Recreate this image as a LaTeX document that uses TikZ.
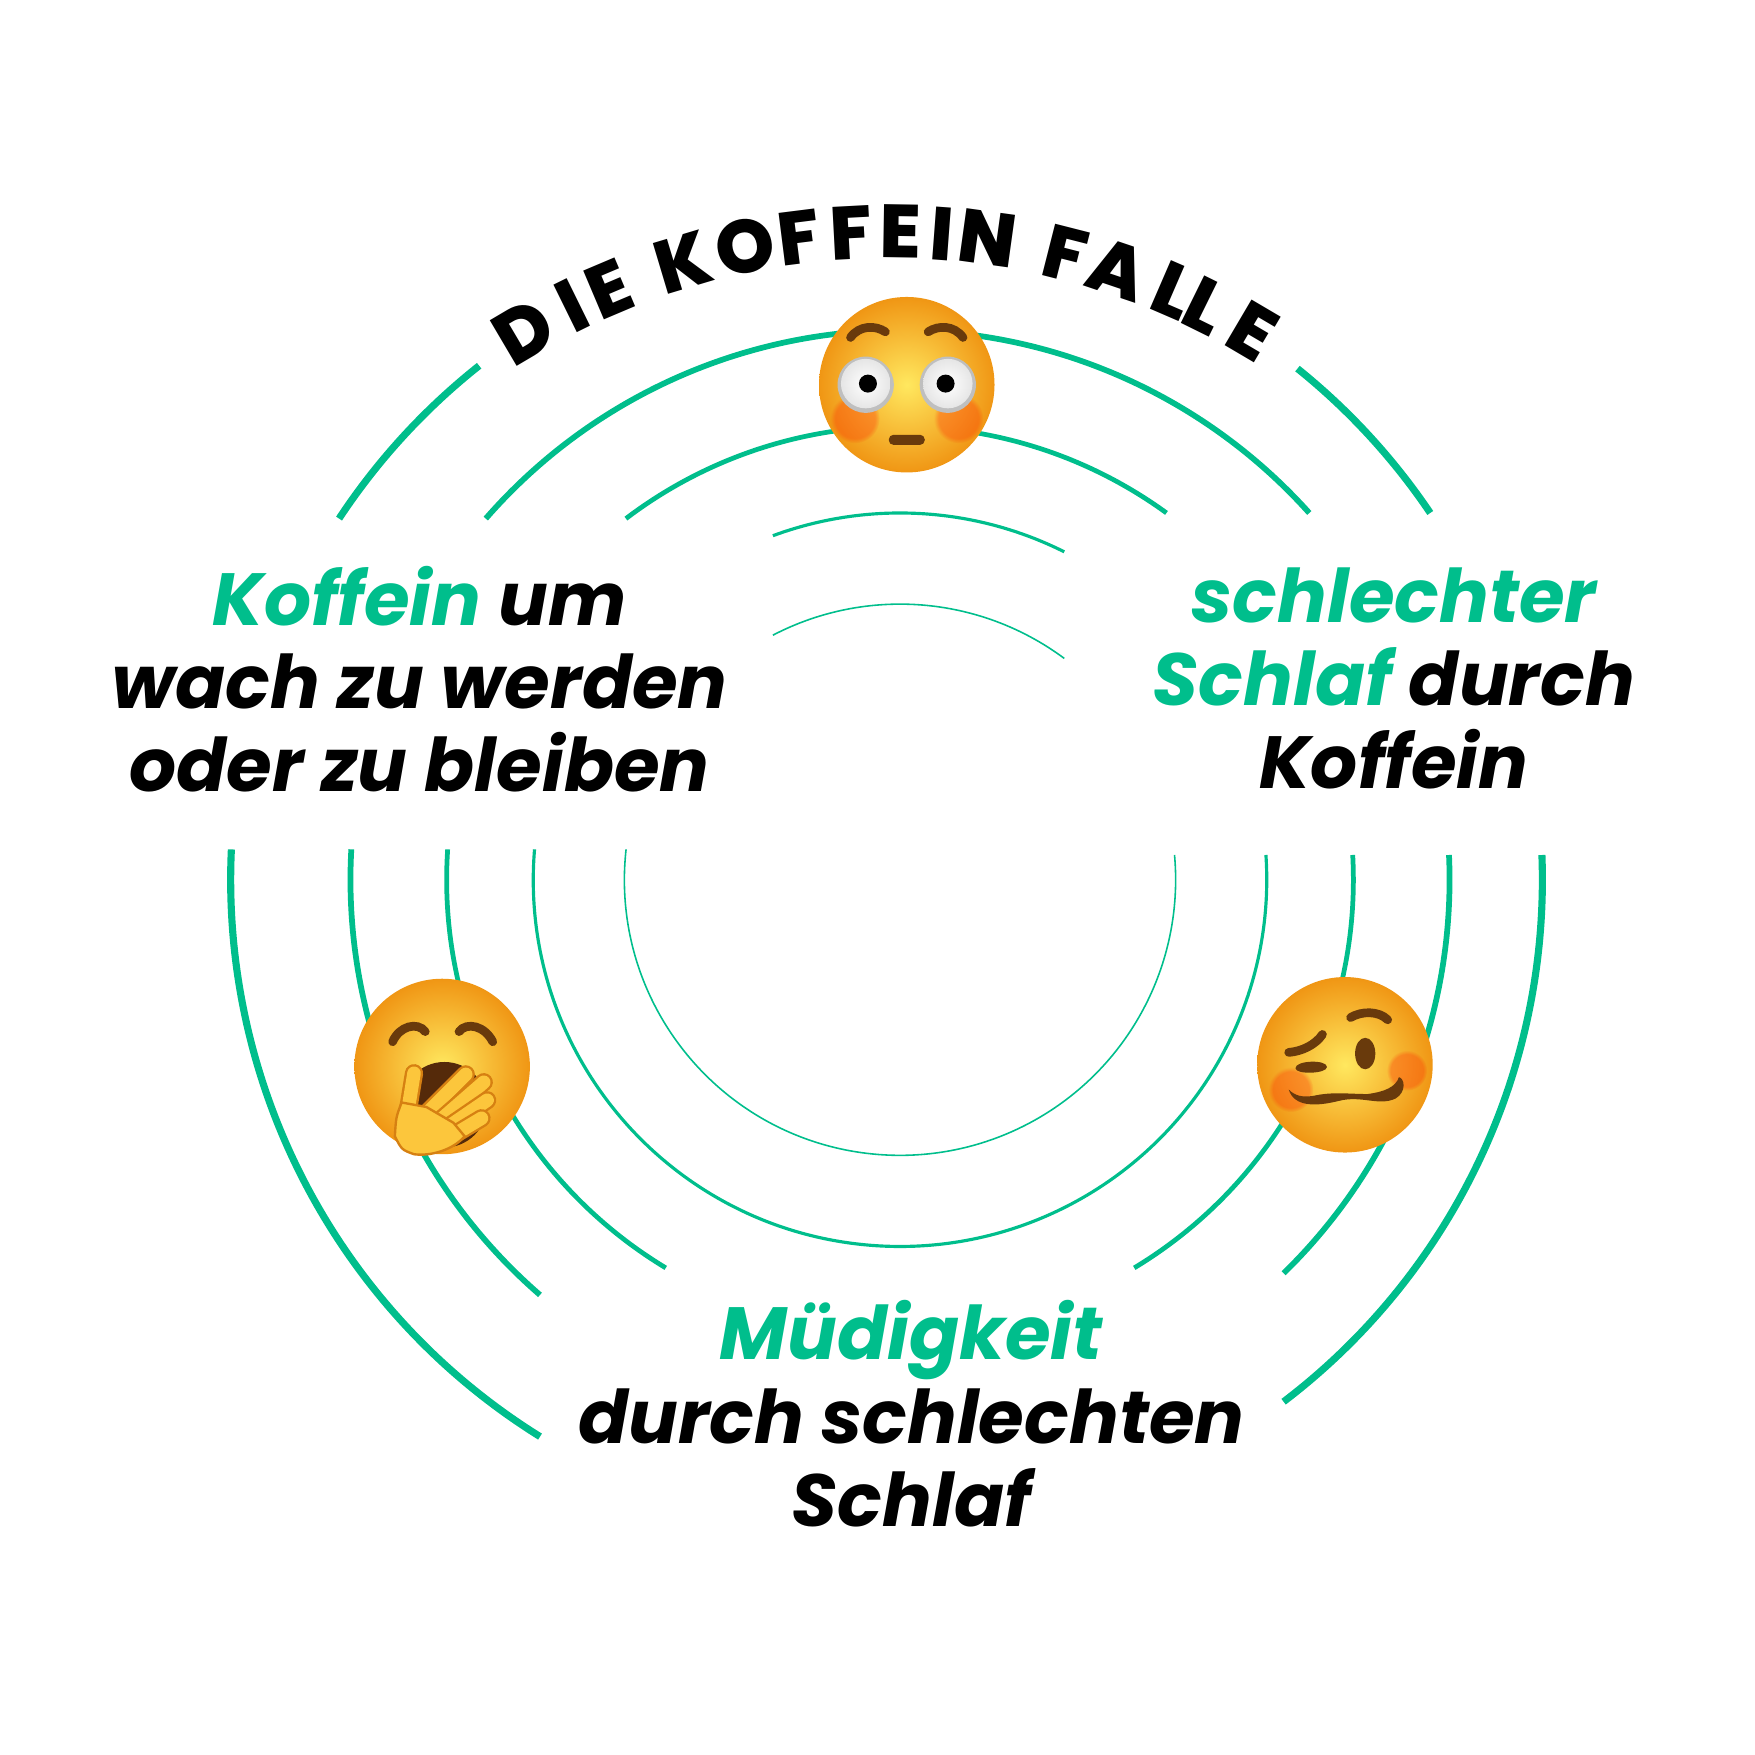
\documentclass[tikz,border=0pt]{standalone}
\usepackage{fontspec}
\setmainfont{Poppins}
\IfFontExistsTF{Poppins ExtraBold}{\newfontfamily\titlefont{Poppins ExtraBold}}{\newcommand\titlefont{\bfseries}}
\usetikzlibrary{fadings}

\definecolor{koffgreen}{RGB}{0,190,140}
\definecolor{facelight}{RGB}{255,232,95}
\definecolor{facedark}{RGB}{240,150,20}
\definecolor{browdark}{RGB}{105,58,12}
\definecolor{mouthdark}{RGB}{85,42,10}
\definecolor{handfill}{RGB}{252,198,60}
\definecolor{handline}{RGB}{214,128,18}

\tikzset{
ring/.style={draw=koffgreen},
face/.style={inner color=facelight,outer color=facedark},
brow/.style={draw=browdark,line width=2.2pt,line cap=round},
blush/.style={fill=red!75!orange,opacity=.3,path fading=circle with fuzzy edge 20 percent},
finger/.style={draw=handline,line width=.6pt,double=handfill,double distance=.12cm,line cap=round},
titleletter/.style={font=\fontsize{19}{19}\selectfont\titlefont,inner sep=0pt},
textblock/.style={font=\fontsize{18.7}{21}\selectfont\bfseries\itshape,align=center,inner sep=0pt},
pics/flushed/.style={
code={
\shade[face] (0,0) circle (.78);
\fill[blush] (-.46,-.3) circle (.22);
\fill[blush] (.46,-.3) circle (.22);
\foreach \s in {-1,1} {
\fill[gray!50] (\s*.365,0) circle (.25);
\shade[inner color=white,outer color=gray!20] (\s*.365,.01) circle (.22);
\fill[black] (\s*.345,.01) circle (.08);
\draw[brow] (\s*.5,.42) .. controls (\s*.42,.53) and (\s*.28,.53) .. (\s*.19,.47);
}
\fill[browdark,rounded corners=1.2pt] (-.16,-.535) rectangle (.16,-.445);
}},
pics/yawning/.style={
code={
\shade[face] (0,0) circle (.78);
\draw[brow] (-.44,.22) .. controls (-.38,.36) and (-.22,.40) .. (-.15,.31);
\draw[brow] (.15,.31) .. controls (.22,.40) and (.38,.36) .. (.45,.22);
\begin{scope}
\clip (0,0) circle (.78);
\fill[mouthdark] (.02,-.34) circle (.38);
\end{scope}
\draw[finger] (-.33,-.55) -- (-.25,-.06);
\draw[finger] (-.12,-.40) -- (.21,-.07);
\draw[finger] (-.02,-.48) -- (.37,-.14);
\draw[finger] (.02,-.56) -- (.40,-.30);
\draw[finger] (.05,-.64) -- (.35,-.46);
\fill[handfill,draw=handline,line width=.6pt] (-.42,-.62) .. controls (-.41,-.45) .. (-.36,-.32)
-- (-.14,-.36) -- (.10,-.5) -- (.2,-.62) .. controls (.1,-.74) and (-.1,-.8) .. (-.25,-.78)
.. controls (-.36,-.74) .. cycle;
}},
pics/woozy/.style={
code={
\shade[face] (0,0) circle (.78);
\fill[blush] (-.48,-.22) circle (.2);
\fill[blush] (.55,-.05) circle (.18);
\fill[browdark] (.18,.1) ellipse (.09 and .14);
\draw[brow] (.05,.42) .. controls (.15,.48) and (.3,.48) .. (.38,.4);
\draw[brow] (-.5,.11) .. controls (-.38,.12) and (-.26,.18) .. (-.2,.27);
\fill[browdark] (-.44,-.03) .. controls (-.44,.04) and (-.16,.05) .. (-.16,-.02)
.. controls (-.16,-.08) and (-.44,-.09) .. cycle;
\fill[browdark] (-.5,-.22) .. controls (-.45,-.38) and (-.25,-.37) .. (-.05,-.32)
.. controls (.15,-.27) and (.3,-.37) .. (.45,-.3)
.. controls (.55,-.24) and (.53,-.12) .. (.48,-.11)
.. controls (.45,-.2) and (.35,-.24) .. (.2,-.26)
.. controls (.05,-.26) and (-.1,-.24) .. (-.25,-.27)
.. controls (-.38,-.3) and (-.45,-.27) .. cycle;
}},
}

\begin{document}
\begin{tikzpicture}
\useasboundingbox (0,0) rectangle (15.6,15.6);
\coordinate (c) at (8,7.78);
\coordinate (c5) at (7.88,7.78);
\coordinate (tc) at (7.9,7.16);
% rings, broken where the texts sit
\foreach \r/\w/\a/\b in {2.45/.4/117.47/53.42,2.45/.4/173.67/365.15,
3.26/.8/110.28/63.39,3.26/.8/175.25/363.87,
4.03/1.2/127.2/54,4.03/1.2/176.16/238.89,4.03/1.2/301.11/363.13,
4.885/1.45/138.92/41.86,4.885/1.45/176.83/229.07,4.885/1.45/314.27/362.58}
\draw[ring,line width=\w pt,shift={(c)}] (\a:\r) arc[start angle=\a,end angle=\b,radius=\r];
\foreach \a/\b in {146.59/128.4,51.2/34,177.35/238.11,307.26/362.16}
\draw[ring,line width=1.8pt,shift={(c5)}] (\a:5.83) arc[start angle=\a,end angle=\b,radius=5.83];
% title on its arc
\begin{scope}[shift={(tc)}]
\foreach \ch/\ang [count=\k] in {D/120.52,I/116.21,E/112.97,K/106.69,O/101.52,F/97.18,F/93.03,
E/89.1,I/85.72,N/82.1,F/75.73,A/71.36,L/66.59,L/63.75,E/59.52}
\node[titleletter,rotate=\ang-90] (title-\k) at (\ang:6.38) {\ch};
\end{scope}
\pic at (8.06,12.18) {flushed};
\pic at (3.93,6.12) {yawning};
\pic at (11.955,6.135) {woozy};
\node[textblock,anchor=base] (wach) at (3.73,8.56)
{\textcolor{koffgreen}{Koffein} um\\wach zu werden\\oder zu bleiben};
\node[textblock,anchor=base] (schlaf) at (12.39,8.59)
{\textcolor{koffgreen}{schlechter}\\\textcolor{koffgreen}{Schlaf} durch\\Koffein};
\node[textblock,anchor=base] (muede) at (8.1,2.035)
{\textcolor{koffgreen}{Müdigkeit}\\durch schlechten\\Schlaf};
\end{tikzpicture}
\end{document}
